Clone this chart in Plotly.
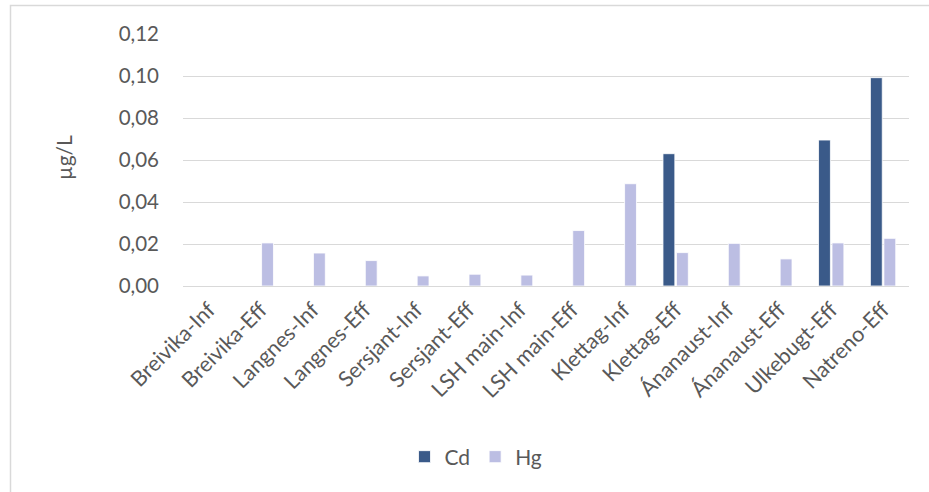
import plotly.graph_objects as go

categories = ["Breivika-Inf", "Breivika-Eff", "Langnes-Inf", "Langnes-Eff", "Sersjant-Inf",
              "Sersjant-Eff", "LSH main-Inf", "LSH main-Eff", "Klettag-Inf", "Klettag-Eff",
              "Ánanaust-Inf", "Ánanaust-Eff", "Ulkebugt-Eff", "Natreno-Eff"]
cd_values = [None, None, None, None, None, None, None, None, None, 0.063,
             None, None, 0.0695, 0.0992]
hg_values = [None, 0.0205, 0.0157, 0.0121, 0.0048, 0.0056, 0.0052, 0.0264, 0.0487, 0.0159,
             0.0203, 0.0129, 0.0205, 0.0227]
y_ticks = [0.0, 0.02, 0.04, 0.06, 0.08, 0.10, 0.12]

W, H = 929, 492
L, R, T, B = 183, 20, 34, 206
pw, ph = W - L - R, H - T - B

def px_x(p):
    return (p - L) / pw

def px_y(p):
    return (H - B - p) / ph

FONT = "Lato"
GREY = "#595959"

fig = go.Figure()
fig.add_trace(go.Bar(name="Cd", x=categories, y=cd_values,
                     marker=dict(color="#3A5A89", line=dict(color="white", width=0.8))))
fig.add_trace(go.Bar(name="Hg", x=categories, y=hg_values,
                     marker=dict(color="#BCBEE3", line=dict(color="white", width=0.8))))

fig.update_layout(
    width=W, height=H,
    margin=dict(l=L, r=R, t=T, b=B, autoexpand=False),
    paper_bgcolor="white", plot_bgcolor="white",
    barmode="group", bargap=0.48, bargroupgap=0.12,
    separators=", ",
    font=dict(family=FONT, color=GREY, size=20),
    showlegend=True,
    legend=dict(orientation="h", x=px_x(476), y=px_y(457), xanchor="center", yanchor="middle",
                font=dict(size=21, color=GREY), itemwidth=30, traceorder="normal"),
    xaxis=dict(tickangle=-45, tickfont=dict(size=21.5, color=GREY), showgrid=False,
               showline=False, ticks="", ticklabelstandoff=6, automargin=False),
    yaxis=dict(range=[0, 0.12], tickvals=y_ticks, tickformat=".2f",
               tickfont=dict(size=20.5, color=GREY), gridcolor="#D9D9D9", gridwidth=1,
               zeroline=True, zerolinecolor="#D9D9D9", zerolinewidth=1,
               showline=False, ticks="", ticklabelstandoff=23, automargin=False),
    shapes=[dict(type="rect", xref="paper", yref="paper",
                 x0=px_x(10.5), x1=px_x(W + 20), y0=px_y(5.5), y1=px_y(H + 20),
                 line=dict(color="#D9D9D9", width=1.5), layer="below")],
    annotations=[dict(text="µg/L", xref="paper", yref="paper", x=px_x(63), y=px_y(158),
                      xanchor="center", yanchor="middle", textangle=-90, showarrow=False,
                      font=dict(size=21, color=GREY))],
)

fig.write_html("out.html", config={"displayModeBar": False},
               post_script="document.body.style.margin='0';")
